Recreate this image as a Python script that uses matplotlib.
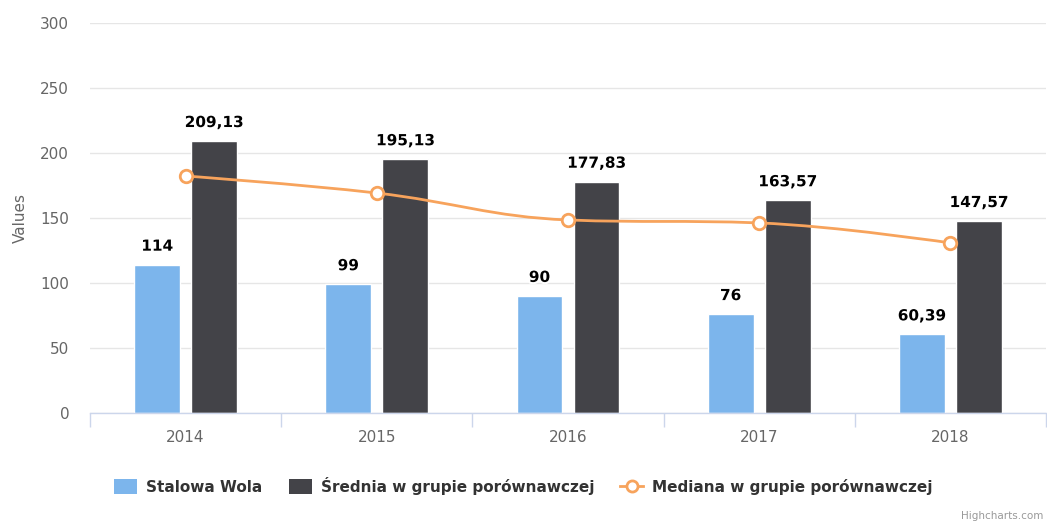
import numpy as np
import matplotlib
matplotlib.use("Agg")
import matplotlib.pyplot as plt
from matplotlib.path import Path
from matplotlib.patches import PathPatch, Patch
from matplotlib.lines import Line2D
import matplotlib.patheffects as pe

years = ["2014", "2015", "2016", "2017", "2018"]
stalowa = [114, 99, 90, 76, 60.39]
srednia = [209.13, 195.13, 177.83, 163.57, 147.57]
mediana = [182.3, 169.2, 148.5, 146.2, 130.8]
yticks = [0, 50, 100, 150, 200, 250, 300]

C_BLUE = "#7cb5ec"
C_DARK = "#434348"
C_ORANGE = "#f7a35c"

def fmt(v):
    if float(v).is_integer():
        return str(int(v))
    return f"{v:.2f}".replace(".", ",")

fig = plt.figure(figsize=(10.47, 5.23), dpi=100)
ax = fig.add_axes([90/1047, (523-413)/523, 956/1047, 390/523])

x = np.arange(len(years))
off = 0.149
w = 0.24
b1 = ax.bar(x - off, stalowa, w, color=C_BLUE, edgecolor="white", linewidth=1, zorder=2)
b2 = ax.bar(x + off, srednia, w, color=C_DARK, edgecolor="white", linewidth=1, zorder=2)

lab_fx = [pe.withStroke(linewidth=3, foreground="white")]
for bars, vals in ((b1, stalowa), (b2, srednia)):
    for r, v in zip(bars, vals):
        ax.annotate(fmt(v), (r.get_x() + r.get_width()/2, v), xytext=(0, 8),
                    textcoords="offset points", ha="center", va="bottom",
                    fontsize=11, fontweight="bold", color="black",
                    path_effects=lab_fx, zorder=5)

# Highcharts-style spline through median points
xs = list(x.astype(float))
ys = list(mediana)
verts = [(xs[0], ys[0])]
codes = [Path.MOVETO]
def controls(i):
    sm, den = 1.5, 2.5
    px, py = xs[i-1], ys[i-1]
    nx, ny = xs[i+1], ys[i+1]
    cx, cy = xs[i], ys[i]
    lx = (sm*cx + px)/den; ly = (sm*cy + py)/den
    rx = (sm*cx + nx)/den; ry = (sm*cy + ny)/den
    if rx != lx:
        corr = ((ry - ly) * (rx - cx)) / (rx - lx) + cy - ry
        ly += corr; ry += corr
    if ly > max(py, cy):
        ly = max(py, cy); ry = 2*cy - ly
    elif ly < min(py, cy):
        ly = min(py, cy); ry = 2*cy - ly
    if ry > max(ny, cy):
        ry = max(ny, cy); ly = 2*cy - ry
    elif ry < min(ny, cy):
        ry = min(ny, cy); ly = 2*cy - ry
    return (lx, ly), (rx, ry)
ctrl = {i: controls(i) for i in range(1, len(xs)-1)}
for i in range(1, len(xs)):
    c1 = ctrl[i-1][1] if (i-1) in ctrl else (xs[i-1], ys[i-1])
    c2 = ctrl[i][0] if i in ctrl else (xs[i], ys[i])
    verts += [c1, c2, (xs[i], ys[i])]
    codes += [Path.CURVE4]*3
ax.add_patch(PathPatch(Path(verts, codes), facecolor="none", edgecolor=C_ORANGE,
                       linewidth=2, zorder=3, capstyle="round", joinstyle="round"))
ax.plot(x, mediana, linestyle="none", marker="o", markersize=9,
        markerfacecolor="white", markeredgecolor=C_ORANGE, markeredgewidth=2, zorder=4)

ax.set_xlim(-0.5, len(years) - 0.5)
ax.set_ylim(0, 300)
ax.set_yticks(yticks)
ax.set_yticklabels([str(t) for t in yticks])
ax.grid(axis="y", color="#e6e6e6", linewidth=1, zorder=0)
ax.set_axisbelow(True)
for s in ("top", "right", "left"):
    ax.spines[s].set_visible(False)
ax.spines["bottom"].set_color("#ccd6eb")
ax.spines["bottom"].set_linewidth(1)
ax.tick_params(axis="y", length=0, labelsize=11, labelcolor="#666666", pad=15)
ax.set_xticks(x)
ax.set_xticklabels(years)
ax.tick_params(axis="x", length=0, labelsize=11, labelcolor="#666666", pad=12)
ax.set_xticks(np.arange(-0.5, len(years)), minor=True)
ax.tick_params(axis="x", which="minor", length=10, color="#ccd6eb", width=1)
ax.set_ylabel("Values", fontsize=11, color="#666666")
ax.yaxis.set_label_coords(-62/956, 0.5)

handles = [Patch(facecolor=C_BLUE, edgecolor="none"),
           Patch(facecolor=C_DARK, edgecolor="none"),
           Line2D([0], [0], color=C_ORANGE, linewidth=2, marker="o", markersize=8,
                  markerfacecolor="white", markeredgecolor=C_ORANGE, markeredgewidth=2)]
labels = ["Stalowa Wola", "Średnia w grupie porównawczej", "Mediana w grupie porównawczej"]
leg = fig.legend(handles, labels, loc="center", bbox_to_anchor=(0.5, 1 - 486/523), ncol=3,
                 frameon=False, fontsize=11, handlelength=1.5, handleheight=1.1,
                 columnspacing=1.7, handletextpad=0.6)
for t in leg.get_texts():
    t.set_fontweight("bold")
    t.set_color("#333333")

fig.text(1043/1047, 1 - 516/523, "Highcharts.com", ha="right", va="center",
         fontsize=7.5, color="#999999")

fig.savefig("out.png", dpi=100)
